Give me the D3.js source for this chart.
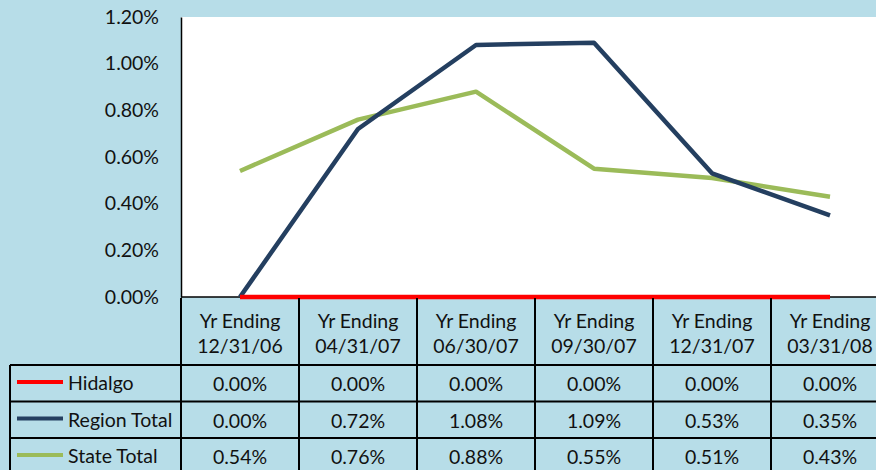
<!DOCTYPE html>
<html>
<head>
<meta charset="utf-8">
<script src="https://cdn.jsdelivr.net/npm/d3@7"></script>
<style>
  body { margin: 0; background: #b7dde8; }
  svg { display: block; }
  text { font-family: Lato, "Open Sans", sans-serif; fill: #111; }
</style>
</head>
<body>
<svg id="chart" width="876" height="470"></svg>
<script>
// datos del grafico
const periodos = ["Yr Ending 12/31/06", "Yr Ending 04/31/07", "Yr Ending 06/30/07",
                  "Yr Ending 09/30/07", "Yr Ending 12/31/07", "Yr Ending 03/31/08"];
const hidalgo = [0.0000, 0.0000, 0.0000, 0.0000, 0.0000, 0.0000];
const regionTotal = [0.0000, 0.0072, 0.0108, 0.0109, 0.0053, 0.0035];
const stateTotal = [0.0054, 0.0076, 0.0088, 0.0055, 0.0051, 0.0043];
const yTicks = [0, 0.002, 0.004, 0.006, 0.008, 0.010, 0.012];

const series = [
    { name: "Hidalgo", values: hidalgo, color: "#ff0000" },
    { name: "Region Total", values: regionTotal, color: "#243f60" },
    { name: "State Total", values: stateTotal, color: "#9bbb59" }
];

const svg = d3.select("#chart");
const plotLeft = 181, plotRight = 889, plotTop = 17, plotBottom = 297;
const headerH = 67, rowH = 36.5, legendLeft = 10;
const fs = "19.5px";

const x = d3.scaleBand().domain(periodos).range([plotLeft, plotRight]).padding(0);
const y = d3.scaleLinear().domain([0, 0.012]).range([plotBottom, plotTop]);
const fmt = d3.format(".2%");

// area del grafico
svg.append("rect")
    .attr("x", plotLeft).attr("y", plotTop)
    .attr("width", plotRight - plotLeft).attr("height", plotBottom - plotTop)
    .attr("fill", "#fff");

// eje Y
const yAxis = svg.append("g")
    .attr("transform", `translate(${plotLeft},0)`)
    .call(d3.axisLeft(y).tickValues(yTicks).tickFormat(fmt).tickSize(0).tickPadding(22));
yAxis.select(".domain").attr("stroke", "#000").attr("stroke-width", 1.5);
yAxis.selectAll("text")
    .style("font-family", "Lato, 'Open Sans', sans-serif")
    .style("font-size", fs)
    .attr("fill", "#111");

// linea base
svg.append("line")
    .attr("x1", plotLeft).attr("x2", plotRight)
    .attr("y1", plotBottom).attr("y2", plotBottom)
    .attr("stroke", "#000").attr("stroke-width", 1.5);

// lineas
const line = d3.line()
    .x((d, i) => x(periodos[i]) + x.bandwidth() / 2)
    .y(d => y(d));

series.slice().reverse().forEach(s => {
    svg.append("path")
        .datum(s.values)
        .attr("fill", "none")
        .attr("stroke", s.color)
        .attr("stroke-width", 4.5)
        .attr("stroke-linejoin", "round")
        .attr("d", line);
});

// tabla de datos
const tabla = svg.append("g");
const hy = plotBottom + 1;
const rowsTop = hy + headerH;

// cabecera
periodos.forEach(p => {
    const cx = x(p) + x.bandwidth() / 2;
    const parts = p.split(" ");
    const t = tabla.append("text")
        .attr("text-anchor", "middle")
        .style("font-size", fs);
    t.append("tspan").attr("x", cx).attr("y", hy + 30).text(parts[0] + " " + parts[1]);
    t.append("tspan").attr("x", cx).attr("y", hy + 55).text(parts[2]);
});

// filas
series.forEach((s, r) => {
    const ry = rowsTop + r * rowH;
    tabla.append("line")
        .attr("x1", legendLeft + 7).attr("x2", legendLeft + 53)
        .attr("y1", ry + 17).attr("y2", ry + 17)
        .attr("stroke", s.color).attr("stroke-width", 4);
    tabla.append("text")
        .attr("x", legendLeft + 58)
        .attr("y", ry + 25)
        .style("font-size", fs)
        .text(s.name);
    s.values.forEach((v, i) => {
        tabla.append("text")
            .attr("x", x(periodos[i]) + x.bandwidth() / 2)
            .attr("y", ry + 26)
            .attr("text-anchor", "middle")
            .style("font-size", fs)
            .text(fmt(v));
    });
});

// bordes de la tabla
const grid = tabla.append("g").attr("stroke", "#000").attr("stroke-width", 2);
periodos.forEach(p => {
    grid.append("line")
        .attr("x1", x(p)).attr("x2", x(p))
        .attr("y1", hy).attr("y2", 480);
});
grid.append("line").attr("x1", plotRight).attr("x2", plotRight).attr("y1", hy).attr("y2", 480);
grid.append("line").attr("x1", legendLeft).attr("x2", legendLeft).attr("y1", rowsTop).attr("y2", 480);
[0, 1, 2, 3].forEach(r => {
    grid.append("line")
        .attr("x1", legendLeft).attr("x2", plotRight)
        .attr("y1", rowsTop + r * rowH).attr("y2", rowsTop + r * rowH);
});
</script>
</body>
</html>
